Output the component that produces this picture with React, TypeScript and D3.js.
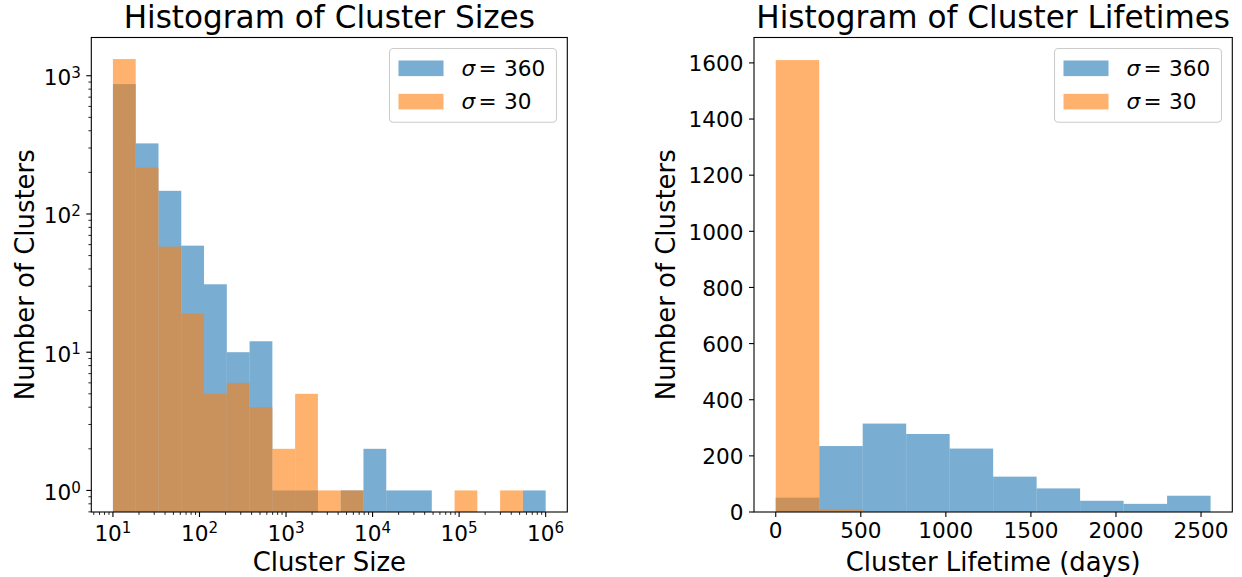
import React, { useEffect, useRef } from 'react';
import * as d3 from 'd3';

// histogram of cluster sizes: 19 log-spaced bins from 10^1 to 10^6
const sizeBinCount = 19;
const sizeRange = [10, 1e6];
const sizeSigma360 = [870, 324, 147, 59, 31, 10, 12, 1, 1, 0, 1, 2, 1, 1, 0, 0, 0, 0, 1];
const sizeSigma30 = [1320, 216, 58, 19, 5, 6, 4, 2, 5, 1, 1, 0, 0, 0, 0, 1, 0, 1, 0];

// histogram of cluster lifetimes (days): 10 bins
const lifeBinCount = 10;
const lifeRange = [0, 2556];
const lifeSigma360 = [51, 235, 315, 278, 226, 126, 84, 40, 29, 58];
const lifeSigma30 = [1610, 9, 0, 0, 0, 0, 0, 0, 0, 0];

const lifeXTicks = [0, 500, 1000, 1500, 2000, 2500];
const lifeYTicks = [0, 200, 400, 600, 800, 1000, 1200, 1400, 1600];

const seriesNames = ['360', '30'];
const seriesColors = ['#1f77b4', '#ff7f0e'];

const FONT = "'DejaVu Sans', sans-serif";
const TOP = 37.5;
const BOTTOM = 512;
const TICK_FS = 21.6;
const LABEL_FS = 25.9;
const TITLE_FS = 31.1;

const App = () => {
  const svgRef = useRef(null);

  useEffect(() => {
    const svg = d3.select(svgRef.current);
    svg.selectAll('*').remove();

    const panel = ({ x, y, edges, series, xLog, yLog, title, xLabel, yLabel, yLabelX, xTicks, yTicks }) => {
      const g = svg.append('g');
      const [x0, x1] = x.range();

      // bars, sigma=360 first and sigma=30 on top
      series.forEach((vals, si) => {
        g.append('g')
          .selectAll('rect')
          .data(vals.map((v, i) => ({ v, a: edges[i], b: edges[i + 1] })).filter(d => d.v > 0))
          .enter().append('rect')
          .attr('x', d => x(d.a))
          .attr('width', d => x(d.b) - x(d.a))
          .attr('y', d => y(d.v))
          .attr('height', d => BOTTOM - y(d.v))
          .attr('fill', seriesColors[si])
          .attr('fill-opacity', 0.6);
      });

      // frame
      g.append('rect')
        .attr('x', x0).attr('y', TOP)
        .attr('width', x1 - x0).attr('height', BOTTOM - TOP)
        .attr('fill', 'none').attr('stroke', '#000').attr('stroke-width', 1.1);

      const ax = g.append('g').attr('font-family', FONT).attr('font-size', TICK_FS).attr('fill', '#000');

      // x ticks
      xTicks.major.forEach(t => {
        ax.append('line').attr('x1', x(t)).attr('x2', x(t)).attr('y1', BOTTOM).attr('y2', BOTTOM + 5)
          .attr('stroke', '#000').attr('stroke-width', 1.1);
        const txt = ax.append('text').attr('x', x(t)).attr('text-anchor', 'middle');
        if (xLog) {
          txt.attr('y', 540.5);
          txt.append('tspan').text('10');
          txt.append('tspan').attr('font-size', '0.7em').attr('dy', '-0.49em').text(Math.round(Math.log10(t)));
        } else {
          txt.attr('y', 538).text(t);
        }
      });
      xTicks.minor.forEach(t => {
        ax.append('line').attr('x1', x(t)).attr('x2', x(t)).attr('y1', BOTTOM).attr('y2', BOTTOM + 2.9)
          .attr('stroke', '#000').attr('stroke-width', 0.85);
      });

      // y ticks
      yTicks.major.forEach(t => {
        ax.append('line').attr('x1', x0 - 5).attr('x2', x0).attr('y1', y(t)).attr('y2', y(t))
          .attr('stroke', '#000').attr('stroke-width', 1.1);
        const txt = ax.append('text').attr('x', x0 - 10.5).attr('text-anchor', 'end');
        if (yLog) {
          txt.attr('y', y(t) + 9.5);
          txt.append('tspan').text('10');
          txt.append('tspan').attr('font-size', '0.7em').attr('dy', '-0.49em').text(Math.round(Math.log10(t)));
        } else {
          txt.attr('y', y(t) + 8.3).text(t);
        }
      });
      yTicks.minor.forEach(t => {
        ax.append('line').attr('x1', x0 - 2.9).attr('x2', x0).attr('y1', y(t)).attr('y2', y(t))
          .attr('stroke', '#000').attr('stroke-width', 0.85);
      });

      // labels and title
      const cx = (x0 + x1) / 2;
      g.append('text').attr('x', cx).attr('y', 28.3).attr('text-anchor', 'middle')
        .attr('font-family', FONT).attr('font-size', TITLE_FS).text(title);
      g.append('text').attr('x', cx).attr('y', 570.5).attr('text-anchor', 'middle')
        .attr('font-family', FONT).attr('font-size', LABEL_FS).text(xLabel);
      g.append('text')
        .attr('transform', `translate(${yLabelX},${(TOP + BOTTOM) / 2}) rotate(-90)`)
        .attr('text-anchor', 'middle')
        .attr('font-family', FONT).attr('font-size', LABEL_FS).text(yLabel);

      // legend, upper right
      const lw = 167;
      const lx = x1 - 10.8 - lw;
      const leg = g.append('g').attr('font-family', FONT).attr('font-size', TICK_FS);
      leg.append('rect').attr('x', lx).attr('y', 48.5).attr('width', lw).attr('height', 73.7)
        .attr('rx', 4).attr('fill', '#fff').attr('fill-opacity', 0.8)
        .attr('stroke', '#cccccc').attr('stroke-width', 1.1);
      seriesNames.forEach((name, i) => {
        const top = 60.5 + i * 33.3;
        leg.append('rect').attr('x', lx + 9).attr('y', top).attr('width', 45).attr('height', 15.6)
          .attr('fill', seriesColors[i]).attr('fill-opacity', 0.6);
        const t = leg.append('text').attr('y', top + 15.6);
        t.append('tspan').attr('x', lx + 72).attr('font-style', 'italic').text('σ');
        t.append('tspan').attr('x', lx + 89).text('=');
        t.append('tspan').attr('x', lx + 114.5).text(name);
      });
    };

    // left panel: cluster sizes on log-log axes
    const sizeEdges = d3.range(sizeBinCount + 1)
      .map(i => sizeRange[0] * (sizeRange[1] / sizeRange[0]) ** (i / sizeBinCount));
    const lx0 = Math.log10(sizeRange[0]);
    const lx1 = Math.log10(sizeRange[1]);
    const xSize = d3.scaleLog()
      .domain([10 ** (lx0 - 0.05 * (lx1 - lx0)), 10 ** (lx1 + 0.05 * (lx1 - lx0))])
      .range([91.3, 567.3]);
    const ly = Math.log10(d3.max(sizeSigma30.concat(sizeSigma360)));
    const ySize = d3.scaleLog()
      .domain([10 ** (-0.05 * ly), 10 ** (1.05 * ly)])
      .range([BOTTOM, TOP]);
    const isPow = t => Math.abs(Math.log10(t) - Math.round(Math.log10(t))) < 1e-9;
    const xst = xSize.ticks();
    const yst = ySize.ticks();

    panel({
      x: xSize, y: ySize, edges: sizeEdges,
      series: [sizeSigma360, sizeSigma30],
      xLog: true, yLog: true,
      title: 'Histogram of Cluster Sizes',
      xLabel: 'Cluster Size',
      yLabel: 'Number of Clusters',
      yLabelX: 33.5,
      xTicks: { major: xst.filter(isPow), minor: xst.filter(t => !isPow(t)) },
      yTicks: { major: yst.filter(isPow), minor: yst.filter(t => !isPow(t)) },
    });

    // right panel: cluster lifetimes, linear axes
    const lifeEdges = d3.range(lifeBinCount + 1)
      .map(i => lifeRange[0] + (lifeRange[1] - lifeRange[0]) * i / lifeBinCount);
    const span = lifeRange[1] - lifeRange[0];
    const xLife = d3.scaleLinear()
      .domain([lifeRange[0] - 0.05 * span, lifeRange[1] + 0.05 * span])
      .range([754, 1232.3]);
    const yLife = d3.scaleLinear()
      .domain([0, 1.05 * d3.max(lifeSigma30.concat(lifeSigma360))])
      .range([BOTTOM, TOP]);

    panel({
      x: xLife, y: yLife, edges: lifeEdges,
      series: [lifeSigma360, lifeSigma30],
      xLog: false, yLog: false,
      title: 'Histogram of Cluster Lifetimes',
      xLabel: 'Cluster Lifetime (days)',
      yLabel: 'Number of Clusters',
      yLabelX: 675,
      xTicks: { major: lifeXTicks, minor: [] },
      yTicks: { major: lifeYTicks, minor: [] },
    });
  }, []);

  return (
    <svg ref={svgRef} width={1242} height={577}
      style={{ position: 'absolute', left: 0, top: 0, background: '#fff' }}></svg>
  );
};

export default App;
